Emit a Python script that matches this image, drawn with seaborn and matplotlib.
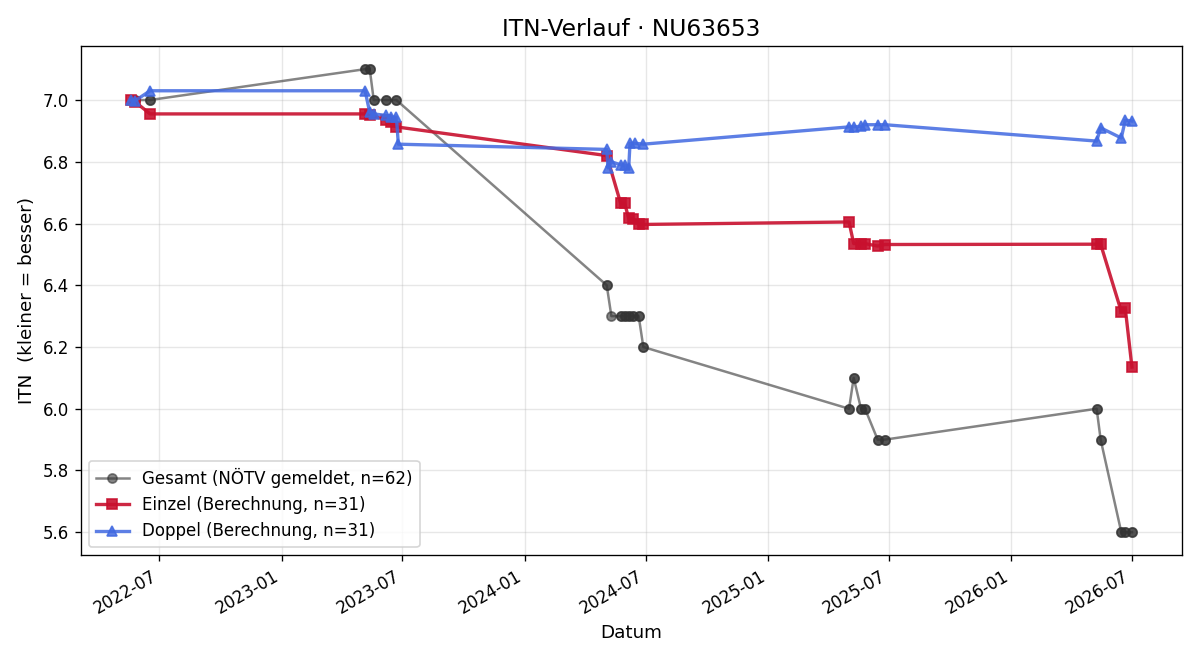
import pandas as pd
import numpy as np
import matplotlib.pyplot as plt
import matplotlib.dates as mdates
import seaborn as sns

# Gesamt (NÖTV gemeldet) - die meisten Werte sind doppelt gemeldet
gesamt_datum = ['2022-05-25', '2022-06-17', '2023-05-06', '2023-05-13', '2023-05-19',
                '2023-06-07', '2023-06-22', '2024-05-03', '2024-05-10', '2024-05-24',
                '2024-05-30', '2024-06-05', '2024-06-12', '2024-06-20', '2024-06-27',
                '2025-05-02', '2025-05-09', '2025-05-20', '2025-05-26', '2025-06-14',
                '2025-06-25', '2026-05-09', '2026-05-15', '2026-06-15', '2026-06-21',
                '2026-07-01']
gesamt_itn = [7.0, 7.0, 7.1, 7.1, 7.0,
              7.0, 7.0, 6.4, 6.3, 6.3,
              6.3, 6.3, 6.3, 6.3, 6.2,
              6.0, 6.1, 6.0, 6.0, 5.9,
              5.9, 6.0, 5.9, 5.6, 5.6,
              5.6]
gesamt_anzahl = [2, 2, 2, 2, 2,
                 2, 2, 2, 1, 2,
                 2, 2, 2, 2, 2,
                 2, 2, 2, 2, 2,
                 2, 2, 2, 2, 2,
                 2]

einzel_datum = ['2022-05-19', '2022-05-25', '2022-06-17', '2023-05-06', '2023-05-13',
                '2023-06-07', '2023-06-14', '2023-06-22', '2024-05-03', '2024-05-24',
                '2024-05-30', '2024-06-05', '2024-06-12', '2024-06-20', '2024-06-27',
                '2025-05-02', '2025-05-09', '2025-05-20', '2025-05-26', '2025-06-14',
                '2025-06-25', '2026-05-09', '2026-05-15', '2026-06-15', '2026-06-21',
                '2026-07-01']
einzel_itn = [7.0, 6.995, 6.955, 6.955, 6.952,
              6.935, 6.93, 6.913, 6.82, 6.665,
              6.665, 6.617, 6.615, 6.597, 6.597,
              6.605, 6.535, 6.535, 6.535, 6.527,
              6.532, 6.533, 6.533, 6.315, 6.325,
              6.135]

doppel_datum = ['2022-05-19', '2022-05-25', '2022-06-17', '2023-05-06', '2023-05-13',
                '2023-05-19', '2023-06-07', '2023-06-14', '2023-06-22', '2023-06-25',
                '2024-05-03', '2024-05-05', '2024-05-10', '2024-05-24', '2024-05-30',
                '2024-06-05', '2024-06-07', '2024-06-15', '2024-06-27', '2025-05-02',
                '2025-05-09', '2025-05-20', '2025-05-26', '2025-06-14', '2025-06-25',
                '2026-05-09', '2026-05-15', '2026-06-15', '2026-06-21', '2026-07-01']
doppel_itn = [7.0, 6.997, 7.03, 7.03, 6.96,
              6.955, 6.95, 6.945, 6.945, 6.857,
              6.84, 6.78, 6.80, 6.79, 6.79,
              6.78, 6.86, 6.86, 6.857, 6.913,
              6.913, 6.915, 6.92, 6.92, 6.92,
              6.867, 6.91, 6.877, 6.935, 6.932]

gesamt = pd.DataFrame({'Datum': pd.to_datetime(np.repeat(gesamt_datum, gesamt_anzahl)),
                       'ITN': np.repeat(gesamt_itn, gesamt_anzahl)})
einzel = pd.DataFrame({'Datum': pd.to_datetime(einzel_datum), 'ITN': einzel_itn})
doppel = pd.DataFrame({'Datum': pd.to_datetime(doppel_datum), 'ITN': doppel_itn})

fig, ax = plt.subplots(figsize=(10, 5.5), dpi=120)

sns.lineplot(data=gesamt, x='Datum', y='ITN', ax=ax, estimator=None, color='#333333',
             alpha=0.6, linewidth=1.5, marker='o', markersize=5.5, markeredgewidth=1,
             markeredgecolor='#333333', label=f'Gesamt (NÖTV gemeldet, n={62})')
sns.lineplot(data=einzel, x='Datum', y='ITN', ax=ax, estimator=None, color='#c8102e',
             alpha=0.9, linewidth=2, marker='s', markersize=6.5, markeredgewidth=1,
             markeredgecolor='#c8102e', label=f'Einzel (Berechnung, n={31})')
sns.lineplot(data=doppel, x='Datum', y='ITN', ax=ax, estimator=None, color='royalblue',
             alpha=0.85, linewidth=2, marker='^', markersize=6.5, markeredgewidth=1,
             markeredgecolor='royalblue', label=f'Doppel (Berechnung, n={31})')

ax.set_title('ITN-Verlauf · NU63653', fontsize=14)
ax.set_xlabel('Datum', fontsize=11)
ax.set_ylabel('ITN  (kleiner = besser)', fontsize=11)
ax.grid(True, alpha=0.3)
ax.xaxis.set_major_locator(mdates.MonthLocator(bymonth=[1, 7]))
ax.xaxis.set_major_formatter(mdates.DateFormatter('%Y-%m'))
ax.legend(loc='lower left')
fig.autofmt_xdate()

plt.tight_layout()
plt.savefig('out.png')
